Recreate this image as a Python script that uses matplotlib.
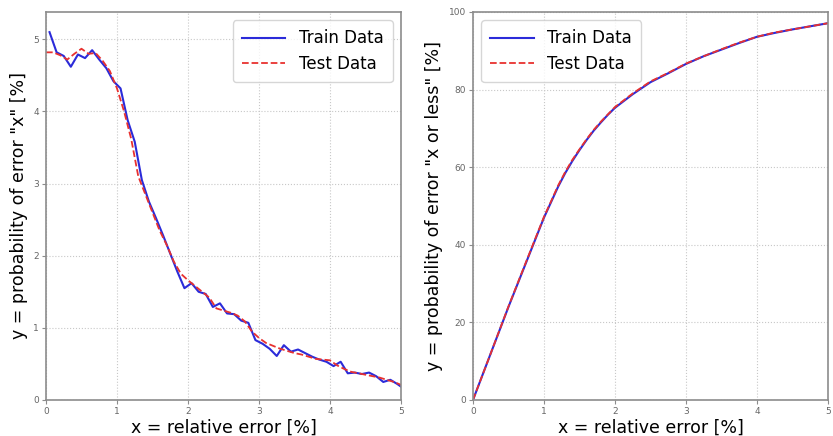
import matplotlib.pyplot as plt
import numpy as np

# left panel: probability of error "x" [%]
train_x = np.arange(0.05, 5.1, 0.1)
train_p = [5.10, 4.82, 4.77, 4.62, 4.79, 4.74, 4.85, 4.72, 4.60, 4.42,
           4.32, 3.88, 3.58, 3.05, 2.75, 2.52, 2.28, 2.03, 1.78, 1.55,
           1.62, 1.50, 1.47, 1.29, 1.34, 1.20, 1.19, 1.10, 1.07, 0.83,
           0.78, 0.71, 0.61, 0.76, 0.67, 0.70, 0.65, 0.60, 0.56, 0.53,
           0.47, 0.53, 0.37, 0.38, 0.36, 0.38, 0.33, 0.25, 0.28, 0.22,
           0.15]
test_x = np.arange(0.0, 5.05, 0.1)
test_p = [4.82, 4.82, 4.78, 4.72, 4.80, 4.87, 4.80, 4.81, 4.70, 4.56,
          4.32, 4.00, 3.62, 3.10, 2.85, 2.60, 2.35, 2.15, 1.92, 1.75,
          1.66, 1.58, 1.50, 1.42, 1.27, 1.24, 1.21, 1.17, 1.09, 0.95,
          0.86, 0.79, 0.75, 0.71, 0.68, 0.65, 0.63, 0.60, 0.57, 0.56,
          0.55, 0.48, 0.43, 0.39, 0.37, 0.35, 0.33, 0.31, 0.28, 0.25,
          0.21]

# right panel: probability of error "x or less" [%]
cum_x = [0, 0.25, 0.5, 0.75, 1.0, 1.1, 1.2, 1.3, 1.4, 1.5, 1.6, 1.7, 1.8,
         1.9, 2.0, 2.25, 2.5, 2.75, 3.0, 3.25, 3.5, 3.75, 4.0, 4.25, 4.5,
         4.75, 5.0]
train_cum = [0, 12.0, 24.0, 35.5, 47.0, 51.0, 55.0, 58.5, 61.6, 64.4, 67.0,
             69.4, 71.5, 73.5, 75.3, 78.8, 81.9, 84.2, 86.6, 88.6, 90.3,
             92.0, 93.6, 94.6, 95.5, 96.3, 97.1]
test_cum = [0, 12.0, 24.1, 35.7, 47.2, 51.2, 55.3, 58.8, 61.9, 64.6, 67.2,
            69.6, 71.7, 73.6, 75.5, 79.0, 82.1, 84.3, 86.7, 88.6, 90.4,
            92.1, 93.6, 94.7, 95.5, 96.3, 97.1]

fig = plt.figure(figsize=(8.33, 4.36), dpi=100)
ax1 = fig.add_axes([0.0552, 0.0826, 0.4262, 0.890])
ax2 = fig.add_axes([0.5678, 0.0826, 0.4262, 0.890])

spine_c = '#8c8c8c'

ax1.plot(train_x, train_p, color='#2b2bd9', lw=1.5, label='Train Data')
ax1.plot(test_x, test_p, color='#e8312f', lw=1.3, ls='--', label='Test Data')
ax1.set_xlim(0, 5)
ax1.set_ylim(0, 5.38)
ax1.set_ylabel('y = probability of error "x" [%]', fontsize=12.5)

ax2.plot(cum_x, train_cum, color='#2b2bd9', lw=1.5, label='Train Data')
ax2.plot(cum_x, test_cum, color='#e8312f', lw=1.3, ls='--', label='Test Data')
ax2.set_xlim(0, 5)
ax2.set_ylim(0, 100)
ax2.set_ylabel('y = probability of error "x or less" [%]', fontsize=12.5)

for ax in (ax1, ax2):
    ax.set_xlabel('x = relative error [%]', fontsize=12.5, labelpad=2)
    ax.grid(True, ls=':', color='#c8c8c8', lw=0.8)
    ax.tick_params(labelsize=6.5, colors='#666666', length=3, width=0.8,
                   color=spine_c, pad=2)
    for s in ax.spines.values():
        s.set_color(spine_c)
        s.set_linewidth(1.2)
    ax.set_xticks([0, 1, 2, 3, 4, 5])

ax1.legend(loc='upper right', fontsize=12, handlelength=2.6, borderpad=0.55,
           labelspacing=0.45)
ax2.legend(loc='upper left', fontsize=12, handlelength=2.6, borderpad=0.55,
           labelspacing=0.45)

fig.savefig('out.png', dpi=100)
